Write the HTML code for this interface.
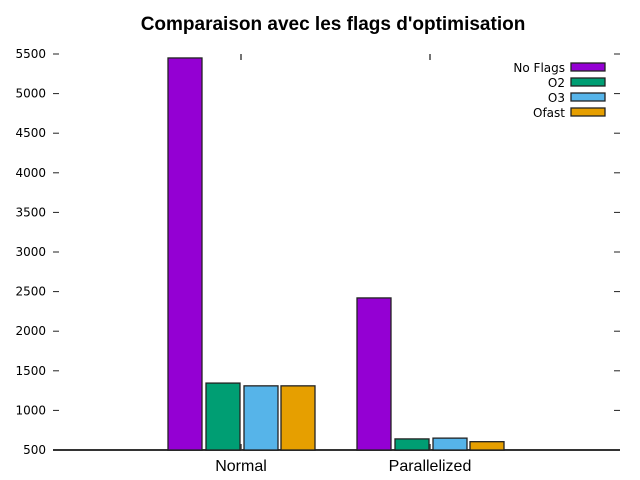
<!DOCTYPE html>
<html><head><meta charset="utf-8"><style>
body{margin:0;background:#fff;}
svg{display:block;font-family:"DejaVu Sans","Liberation Sans",sans-serif;}
</style></head><body>
<svg id="chart" width="640" height="480">
<text x="333" y="30" text-anchor="middle" font-family="Liberation Sans, sans-serif" font-weight="bold" font-size="19">Comparaison avec les flags d'optimisation</text>
<g id="axes"></g><g id="bars"></g><g id="legend"></g>
</svg>
<script>
const categories=["Normal","Parallelized"];
const seriesNames=["No Flags","O2","O3","Ofast"];
const noFlags=[5450,2420];
const o2=[1345,640];
const o3=[1310,650];
const ofast=[1310,605];
const yTicks=[500,1000,1500,2000,2500,3000,3500,4000,4500,5000,5500];
const colors=["#9400d3","#009e73","#56b4e9","#e69f00"];
const series=[noFlags,o2,o3,ofast];
const NS="http://www.w3.org/2000/svg";
const X0=53,X1=620,Y0=450,Y1=54,ymin=500,ymax=5500;
function y(v){return Y0-(v-ymin)/(ymax-ymin)*(Y0-Y1);}
function cx(i){return 241+i*189;}
function mk(t,a,p){const e=document.createElementNS(NS,t);for(const k in a)e.setAttribute(k,a[k]);p.appendChild(e);return e;}
const ax=document.getElementById('axes');
yTicks.forEach(v=>{
 const t=mk('text',{x:46,y:y(v)+4,'text-anchor':'end','font-size':12},ax);t.textContent=v;
 
 
 mk('line',{x1:X0,x2:X0+6,y1:y(v),y2:y(v),stroke:'#222'},ax);
 mk('line',{x1:X1-6,x2:X1,y1:y(v),y2:y(v),stroke:'#222'},ax);
});
categories.forEach((c,i)=>{
 const t=mk('text',{x:cx(i),y:471,'text-anchor':'middle','font-size':16,'font-family':'Liberation Sans, sans-serif'},ax);t.textContent=c;
 
 
 mk('line',{x1:cx(i),x2:cx(i),y1:Y1,y2:Y1+6,stroke:'#444','stroke-width':1.5},ax);
 mk('line',{x1:cx(i),x2:cx(i),y1:Y0-6,y2:Y0,stroke:'#444','stroke-width':1.5},ax);
});
mk('line',{x1:X0,x2:X1,y1:Y0,y2:Y0,stroke:'#333','stroke-width':2},ax);
const bg=document.getElementById('bars');
const offs=[-73,-35,3,40],bw=34;
series.forEach((s,si)=>s.forEach((v,ci)=>{
 const r=mk('rect',{x:cx(ci)+offs[si],y:y(v),width:bw,height:Y0-y(v),fill:colors[si],stroke:'#222','stroke-width':1.3},bg);
 
 
}));
const lg=document.getElementById('legend');
seriesNames.forEach((n,i)=>{
 const g=mk('g',{},lg);
 
 
 const t=mk('text',{x:565,y:72+i*15,'text-anchor':'end','font-size':12},g);t.textContent=n;
 mk('rect',{x:571,y:63+i*15,width:34,height:8,fill:colors[i],stroke:'#222','stroke-width':1.3},g);
});
</script>
</body></html>
